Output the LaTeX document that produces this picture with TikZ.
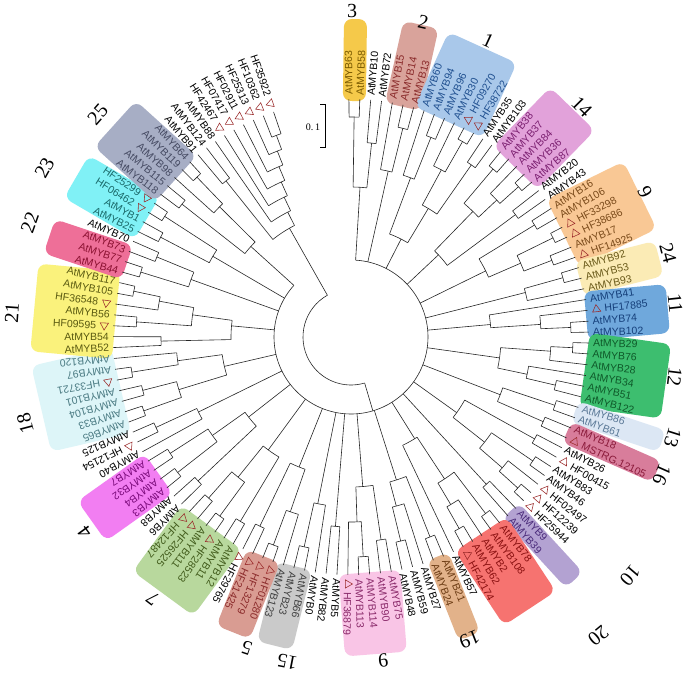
\documentclass[tikz,border=0pt]{standalone}
\usepackage{fontspec}
\setmainfont{Liberation Sans}
\newfontfamily\numfont{Liberation Serif}
\usetikzlibrary{shapes.geometric}
\definecolor{b3}{HTML}{F5C94A}
\definecolor{b2}{HTML}{D9A39B}
\definecolor{b1}{HTML}{A9C8EA}
\definecolor{b14}{HTML}{E2A2DA}
\definecolor{b9}{HTML}{F9C895}
\definecolor{b24}{HTML}{FBEBB5}
\definecolor{b11}{HTML}{6FA8DC}
\definecolor{b12}{HTML}{3DBE6F}
\definecolor{b13}{HTML}{DCE7F4}
\definecolor{b16}{HTML}{D87D9B}
\definecolor{b10}{HTML}{B3A2D2}
\definecolor{b20}{HTML}{F67370}
\definecolor{b19}{HTML}{E2B28A}
\definecolor{b6}{HTML}{F9C5E6}
\definecolor{b15}{HTML}{CACACA}
\definecolor{b5}{HTML}{D99C92}
\definecolor{b7}{HTML}{B8D89D}
\definecolor{b4}{HTML}{F27EF2}
\definecolor{b18}{HTML}{DDF5F8}
\definecolor{b21}{HTML}{FAF27C}
\definecolor{b22}{HTML}{EE6F98}
\definecolor{b23}{HTML}{80F1F6}
\definecolor{b25}{HTML}{A7AEC5}
\definecolor{t3}{HTML}{7A5A00}
\definecolor{t2}{HTML}{8A2B2B}
\definecolor{t1}{HTML}{1F4F8F}
\definecolor{t14}{HTML}{7B1F70}
\definecolor{t9}{HTML}{7A4A1A}
\definecolor{t24}{HTML}{6A5A1A}
\definecolor{t11}{HTML}{153F7A}
\definecolor{t12}{HTML}{0F5A2A}
\definecolor{t13}{HTML}{5A7896}
\definecolor{t16}{HTML}{8A1A3A}
\definecolor{t10}{HTML}{4A2A7A}
\definecolor{t20}{HTML}{8A1010}
\definecolor{t19}{HTML}{6A3A12}
\definecolor{t6}{HTML}{8A2A6A}
\definecolor{t15}{HTML}{404040}
\definecolor{t5}{HTML}{8A2A2A}
\definecolor{t7}{HTML}{405A1A}
\definecolor{t4}{HTML}{7A0A7A}
\definecolor{t18}{HTML}{4A7A82}
\definecolor{t21}{HTML}{5A5A10}
\definecolor{t22}{HTML}{8A1030}
\definecolor{t23}{HTML}{1A6A6A}
\definecolor{t25}{HTML}{454A62}
\definecolor{trired}{HTML}{9A2A2A}
\begin{document}
\begin{tikzpicture}[x=1pt,y=1pt,
  br/.style={line width=0.6pt, draw=black!85},
  lbl/.style={font=\fontsize{10.5}{11}\selectfont, inner sep=0pt},
  tri/.style={regular polygon, regular polygon sides=3, draw=trired, line width=0.55pt, inner sep=0pt, minimum size=9.5pt},
  cladebox/.style={rounded corners=8pt, inner sep=0pt, draw=none},
  num/.style={font=\numfont\fontsize{20}{20}\selectfont, inner sep=0pt}]
\useasboundingbox (-351,-341) rectangle (341,337);
\fill[white] (-351,-341) rectangle (341,337);
% clade boxes
\foreach \f/\l/\c/\ro in {1/2/b3/318, 5/7/b2/320, 8/13/b1/318, 16/20/b14/318, 23/28/b9/322, 29/31/b24/318, 32/35/b11/318, 36/41/b12/318, 42/43/b13/328, 44/45/b16/334, 53/54/b10/330, 55/59/b20/325, 61/62/b19/322, 66/70/b6/318, 74/76/b15/318, 77/79/b5/318, 81/86/b7/318, 89/92/b4/318, 96/102/b18/318, 103/109/b21/318, 110/112/b22/318, 114/117/b23/318, 118/122/b25/318}{
  \pgfmathsetmacro\lang{90.5-((\f+\l)/2-1)*2.627}
  \pgfmathsetmacro\rc{(236+\ro)/2}
  \pgfmathsetmacro\blen{\ro-236}
  \pgfmathsetmacro\bwid{(\l-\f)*13+10}
  \node[cladebox, fill=\c, rotate=\lang, minimum width=\blen pt, minimum height=\bwid pt] (B\f) at (\lang:\rc) {};
}
% root
\draw[br] (119.5:48) arc[start angle=119.5, end angle=286.5, radius=48];
\draw[br] (-73.5:48) -- (-73.5:77);
\draw[br] (86.56:77) arc[start angle=86.56, end angle=-222.1, radius=77];
% internal nodes f/m/l/r/rp
\foreach \f/\m/\l/\rr/\rp in {
 1/2/4/150/77, 1/1/2/220/150, 3/3/4/195/150,
 5/5/7/170/77, 6/6/7/215/170,
 8/10/15/110/77, 8/8/10/170/110, 9/9/10/215/170, 11/13/15/150/110, 11/11/13/190/150, 12/12/13/225/190, 14/14/15/210/150,
 16/20/22/120/77, 16/17/20/175/120, 16/16/17/220/175, 18/18/20/200/175, 19/19/20/225/200, 21/21/22/205/120,
 23/24/28/150/77, 23/23/24/215/150, 25/26/28/185/150, 25/25/26/225/185, 27/27/28/215/185,
 29/30/31/180/77, 29/29/30/220/180,
 32/32/35/140/77, 33/33/35/190/140, 34/34/35/220/190,
 36/38/41/150/77, 36/37/38/200/150, 36/36/37/222/200, 39/39/41/180/150, 40/40/41/210/180,
 42/43/45/160/77, 42/42/43/215/160, 44/44/45/210/160,
 46/47/52/130/77, 46/46/47/210/130, 48/49/52/170/130, 48/48/49/220/170, 50/50/52/200/170, 51/51/52/225/200,
 53/53/54/200/77,
 55/59/60/120/77, 55/56/59/170/120, 55/55/56/222/170, 57/57/59/195/170, 58/58/59/220/195,
 61/62/65/150/77, 61/61/62/215/150, 63/63/65/175/150, 64/64/65/210/175,
 66/67/70/150/77, 66/66/67/205/150, 68/69/70/185/150, 68/68/69/220/185,
 71/71/72/190/77,
 73/73/75/170/77, 74/74/75/215/170,
 76/78/80/140/77, 76/76/78/185/140, 77/77/78/222/185, 79/79/80/210/140,
 81/82/86/140/77, 81/81/82/215/140, 83/84/86/180/140, 83/83/84/222/180, 85/85/86/215/180,
 87/88/92/130/77, 87/87/88/210/130, 89/90/92/170/130, 89/89/90/220/170, 91/91/92/215/170,
 93/93/95/170/77, 94/94/95/215/170,
 96/99/102/130/77, 96/97/99/180/130, 96/96/97/220/180, 98/98/99/215/180, 100/101/102/175/130, 100/100/101/222/175,
 103/104/109/120/77, 103/103/104/190/120, 105/106/109/160/120, 105/105/106/215/160, 107/107/109/195/160, 108/108/109/222/195,
 110/111/113/170/77, 110/110/111/220/170, 112/112/113/210/170,
 114/115/117/160/77, 114/114/115/215/160, 116/116/117/222/160,
 118/119/122/135/77, 118/118/119/215/135, 120/120/122/185/135, 121/121/122/222/185,
 123/124/131/125/48, 123/123/124/200/125, 125/125/131/140/125, 126/126/131/155/140, 127/127/131/170/155, 128/128/131/185/170, 129/129/131/200/185, 130/130/131/215/200}{
  \pgfmathsetmacro\angM{90.5-((\f+\l)/2-1)*2.627}
  \pgfmathsetmacro\angA{90.5-((\f+\m)/2-1)*2.627}
  \pgfmathsetmacro\angB{90.5-((\m+1+\l)/2-1)*2.627}
  \pgfmathtruncatemacro\mm{\m+1}
  \draw[br] (\angM:\rp) -- (\angM:\rr);
  \draw[br] (\angA:\rr) arc[start angle=\angA, end angle=\angB, radius=\rr];
  \ifnum\f=\m\relax \draw[br] (\angA:\rr) -- (\angA:238); \fi
  \ifnum\mm=\l\relax \draw[br] (\angB:\rr) -- (\angB:238); \fi
}
% leaf labels
\foreach \i/\nm/\hf/\tc in {
1/AtMYB63/0/t3, 2/AtMYB58/0/t3, 3/AtMYB10/0/black, 4/AtMYB72/0/black,
5/AtMYB15/0/t2, 6/AtMYB14/0/t2, 7/AtMYB13/0/t2,
8/AtMYB60/0/t1, 9/AtMYB94/0/t1, 10/AtMYB96/0/t1, 11/AtMYB30/0/t1, 12/HF09270/1/t1, 13/HF38722/1/t1,
14/AtMYB35/0/black, 15/AtMYB103/0/black,
16/AtMYB38/0/t14, 17/AtMYB37/0/t14, 18/AtMYB84/0/t14, 19/AtMYB36/0/t14, 20/AtMYB87/0/t14,
21/AtMYB20/0/black, 22/AtMYB43/0/black,
23/AtMYB16/0/t9, 24/AtMYB106/0/t9, 25/HF33298/1/t9, 26/HF38686/1/t9, 27/AtMYB17/0/t9, 28/HF14925/1/t9,
29/AtMYB92/0/t24, 30/AtMYB53/0/t24, 31/AtMYB93/0/t24,
32/AtMYB41/0/t11, 33/HF17885/1/t11, 34/AtMYB74/0/t11, 35/AtMYB102/0/t11,
36/AtMYB29/0/t12, 37/AtMYB76/0/t12, 38/AtMYB28/0/t12, 39/AtMYB34/0/t12, 40/AtMYB51/0/t12, 41/AtMYB122/0/t12,
42/AtMYB86/0/t13, 43/AtMYB61/0/t13, 44/AtMYB18/0/t16, 45/MSTRG.12105/1/t16,
46/AtMYB26/0/black, 47/HF00415/1/black, 48/AtMYB83/0/black, 49/AtMYB46/0/black, 50/HF02497/1/black, 51/HF12239/1/black, 52/HF25944/1/black,
53/AtMYB9/0/t10, 54/AtMYB39/0/t10,
55/AtMYB78/0/t20, 56/AtMYB108/0/t20, 57/AtMYB2/0/t20, 58/AtMYB62/0/t20, 59/HF42174/1/t20,
60/AtMYB57/0/black, 61/AtMYB21/0/t19, 62/AtMYB24/0/t19, 63/AtMYB27/0/black, 64/AtMYB59/0/black, 65/AtMYB48/0/black,
66/AtMYB75/0/t6, 67/AtMYB90/0/t6, 68/AtMYB114/0/t6, 69/AtMYB113/0/t6, 70/HF36879/1/t6,
71/AtMYB5/0/black, 72/AtMYB82/0/black, 73/AtMYB0/0/black,
74/AtMYB66/0/t15, 75/AtMYB23/0/t15, 76/AtMYB123/0/t15,
77/HF01280/1/t5, 78/HF13279/1/t5, 79/HF21425/1/t5, 80/HF29765/1/black,
81/AtMYB12/0/t7, 82/AtMYB11/0/t7, 83/HF28523/1/t7, 84/AtMYB111/0/t7, 85/HF26525/1/t7, 86/HF12487/1/t7,
87/AtMYB6/0/black, 88/AtMYB8/0/black,
89/AtMYB3/0/t4, 90/AtMYB4/0/t4, 91/AtMYB32/0/t4, 92/AtMYB7/0/t4,
93/AtMYB40/0/black, 94/HF12154/1/black, 95/AtMYB125/0/black,
96/AtMYB65/0/t18, 97/AtMYB33/0/t18, 98/AtMYB104/0/t18, 99/AtMYB101/0/t18, 100/HF33721/1/t18, 101/AtMYB97/0/t18, 102/AtMYB120/0/t18,
103/AtMYB52/0/t21, 104/AtMYB54/0/t21, 105/HF09595/1/t21, 106/AtMYB56/0/t21, 107/HF36548/1/t21, 108/AtMYB105/0/t21, 109/AtMYB117/0/t21,
110/AtMYB44/0/t22, 111/AtMYB77/0/t22, 112/AtMYB73/0/t22, 113/AtMYB70/0/black,
114/AtMYB25/0/t23, 115/AtMYB1/0/t23, 116/HF06462/1/t23, 117/HF25299/1/t23,
118/AtMYB118/0/t25, 119/AtMYB115/0/t25, 120/AtMYB98/0/t25, 121/AtMYB119/0/t25, 122/AtMYB64/0/t25,
123/AtMYB91/0/black, 124/AtMYB124/0/black, 125/AtMYB88/0/black,
126/HF42467/1/black, 127/HF07417/1/black, 128/HF02911/1/black, 129/HF25313/1/black, 130/HF10362/1/black, 131/HF35922/1/black}{
  \pgfmathsetmacro\lang{90.5-(\i-1)*2.627}
  \ifnum\hf=1 \def\rl{255}\else\def\rl{242}\fi
  \ifnum\i<103
    \node[lbl, text=\tc, anchor=west, rotate=\lang] (L\i) at (\lang:\rl) {\nm};
  \else
    \pgfmathsetmacro\rt{\lang+180}
    \node[lbl, text=\tc, anchor=east, rotate=\rt] (L\i) at (\lang:\rl) {\nm};
  \fi
  \ifnum\hf=1
    \node[tri, rotate=\lang] (T\i) at (\lang:247) {};
  \fi
}
% clade numbers
\foreach \t/\lang/\rr in {3/89.8/326, 2/77.1/323, 1/65.2/327, 14/44.9/326, 9/26.3/328, 24/14.8/328, 11/6.0/326, 12/-7.0/326, 13/-17.4/337, 16/-23.9/340, 10/-40.5/367, 20/-50.4/388, 19/-68.6/325, 15/-101.1/331, 5/-108.5/328, 7/-127.2/328, 4/-143.8/330, 18/-165.2/337, 21/175.9/340, 22/160.4/341, 23/151.1/350, 25/138.7/337}{
  \pgfmathsetmacro\rt{\lang-90}
  \node[num, rotate=\rt] (N\t) at (\lang:\rr) {\t};
}
\node[num, rotate=5.7] (N6) at (-84.3:325) {6};
% scale bar
\coordinate (s1) at (-31,233);
\coordinate (s2) at (-26,233);
\coordinate (s3) at (-26,190);
\coordinate (s4) at (-31,190);
\draw[line width=0.6pt] (s1) -- (s2) -- (s3) -- (s4);
\node[font=\numfont\fontsize{10}{10}\selectfont, inner sep=0pt] (sb) at (-38,210) {0.\,1};
\end{tikzpicture}
\end{document}
